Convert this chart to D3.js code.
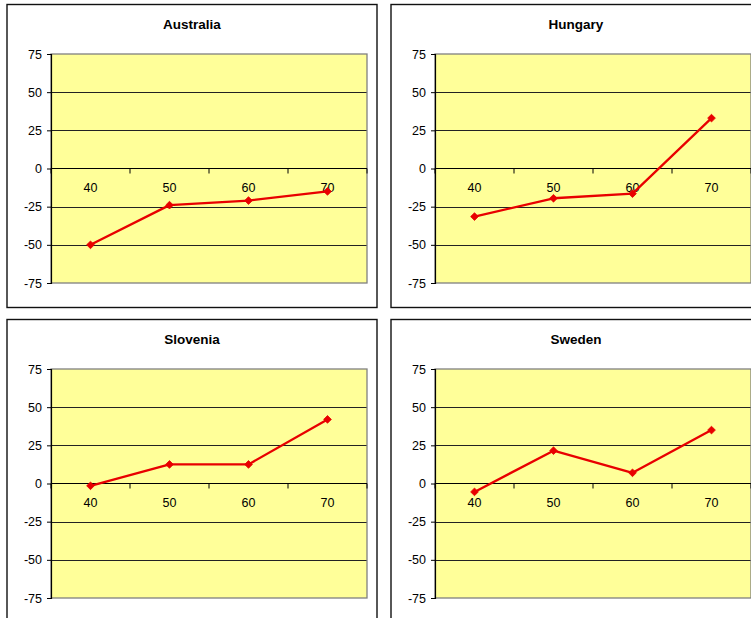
<!DOCTYPE html>
<html>
<head>
<meta charset="utf-8">
<script src="https://cdn.jsdelivr.net/npm/d3@7"></script>
<style>
  html, body { margin: 0; padding: 0; background: #fff; }
  svg { display: block; }
  text { font-family: "Liberation Sans", Arial, sans-serif; fill: #000; }
</style>
</head>
<body>
<svg id="chart" width="751" height="618"></svg>
<script>
// Age groups on the category axis
const categories = ["40", "50", "60", "70"];
// Country panel titles, in reading order
const countries = ["Australia", "Hungary", "Slovenia", "Sweden"];
// One series per country
const australia = [-50, -24, -21, -15];
const hungary   = [-31.5, -19.5, -16.5, 33];
const slovenia  = [-1.5, 12.5, 12.5, 42];
const sweden    = [-5.5, 21.5, 7, 35];
const seriesValues = [australia, hungary, slovenia, sweden];
// Value axis ticks
const yTicks = [-75, -50, -25, 0, 25, 50, 75];

const svg = d3.select("#chart");

// Panel layout
const panelW = 370, panelH = 303;
const panelX = [7, 391], panelY = [4.5, 319.5];
const plot = { left: 44, top: 49.5, width: 316, height: 229 };

const x = d3.scaleBand().domain(categories).range([0, plot.width]).paddingInner(0).paddingOuter(0);
const y = d3.scaleLinear().domain([-75, 75]).range([plot.height, 0]);

countries.forEach((name, i) => {
  const col = i % 2, row = Math.floor(i / 2);
  const g = svg.append("g").attr("transform", `translate(${panelX[col]},${panelY[row]})`);

  // chart frame
  g.append("rect")
    .attr("x", 0).attr("y", 0).attr("width", panelW).attr("height", panelH)
    .attr("fill", "#fff").attr("stroke", "#111").attr("stroke-width", 1.4);

  // title
  g.append("text")
    .attr("x", panelW / 2).attr("y", 24.5)
    .attr("text-anchor", "middle")
    .style("font-size", "13.5px").style("font-weight", "bold")
    .text(name);

  const p = g.append("g").attr("transform", `translate(${plot.left},${plot.top})`);

  // plot area
  p.append("rect")
    .attr("x", 0).attr("y", 0).attr("width", plot.width).attr("height", plot.height)
    .attr("fill", "#FFFF99");

  // horizontal gridlines
  p.selectAll("line.grid")
    .data(yTicks.filter(t => t !== 75 && t !== -75 && t !== 0))
    .join("line")
    .attr("class", "grid")
    .attr("x1", 0).attr("x2", plot.width)
    .attr("y1", d => Math.round(y(d)) + 0.5).attr("y2", d => Math.round(y(d)) + 0.5)
    .attr("stroke", "#222").attr("stroke-width", 1);

  // plot area border
  p.append("rect")
    .attr("x", 0).attr("y", 0).attr("width", plot.width).attr("height", plot.height)
    .attr("fill", "none").attr("stroke", "#808080").attr("stroke-width", 1.3);

  // value axis (plain hyphen for negatives)
  const yAxis = d3.axisLeft(y).tickValues(yTicks).tickSize(4).tickPadding(5).tickFormat(d => String(d));
  const ya = p.append("g").call(yAxis);
  ya.select(".domain").attr("stroke", "#000").attr("stroke-width", 1.2);
  ya.selectAll(".tick line").attr("stroke", "#000");
  ya.selectAll(".tick text")
    .style("font-size", "12.5px")
    .style("font-family", '"Liberation Sans", Arial, sans-serif');

  // category axis at zero, ticks on band boundaries
  const xa = p.append("g").attr("transform", `translate(0,${y(0)})`);
  xa.append("line")
    .attr("x1", 0).attr("x2", plot.width)
    .attr("stroke", "#000").attr("stroke-width", 1.2);
  const bounds = categories.map(c => x(c)).concat([plot.width]);
  xa.selectAll("line.tk").data(bounds).join("line")
    .attr("class", "tk")
    .attr("x1", d => d).attr("x2", d => d)
    .attr("y1", 0).attr("y2", 5)
    .attr("stroke", "#000").attr("stroke-width", 1);
  xa.selectAll("text").data(categories).join("text")
    .attr("x", d => x(d) + x.bandwidth() / 2)
    .attr("y", 23.5)
    .attr("text-anchor", "middle")
    .style("font-size", "12.5px")
    .text(d => d);

  // data line
  const vals = seriesValues[i];
  const pts = categories.map((c, k) => [x(c) + x.bandwidth() / 2, y(vals[k])]);
  p.append("path")
    .attr("d", d3.line()(pts))
    .attr("fill", "none").attr("stroke", "#e80000").attr("stroke-width", 2.3)
    .attr("stroke-linejoin", "round");

  // diamond markers
  const diamond = d3.symbol().type(d3.symbolDiamond2).size(38);
  p.selectAll("path.mk").data(pts).join("path")
    .attr("class", "mk")
    .attr("transform", d => `translate(${d[0]},${d[1]})`)
    .attr("d", diamond)
    .attr("fill", "#e80000").attr("stroke", "#e80000").attr("stroke-width", 0.8);
});
</script>
</body>
</html>
